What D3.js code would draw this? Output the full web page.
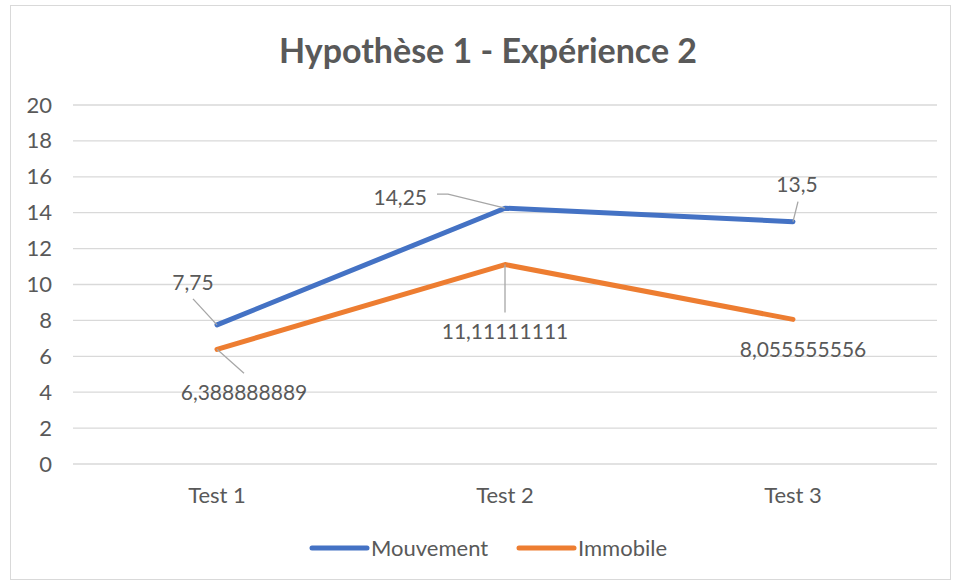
<!DOCTYPE html>
<html>
<head>
<meta charset="utf-8">
<script src="https://cdn.jsdelivr.net/npm/d3@7"></script>
<style>
  body { margin: 0; background: #fff; }
  text { font-family: Lato, "Open Sans", sans-serif; fill: #595959; }
</style>
</head>
<body>
<div id="Canvas"></div>
<script>
// données
let categories = ["Test 1", "Test 2", "Test 3"]
let seriesNames = ["Mouvement", "Immobile"]
let mouvement = [7.75, 14.25, 13.5]
let immobile = [6.388888889, 11.11111111, 8.055555556]
let labelsMouvement = ["7,75", "14,25", "13,5"]
let labelsImmobile = ["6,388888889", "11,11111111", "8,055555556"]
let yTicks = [0, 2, 4, 6, 8, 10, 12, 14, 16, 18, 20]
let colors = ["#4472C4", "#ED7D31"]

let svg = d3.select("#Canvas")
    .append("svg")
    .attr("width", 954)
    .attr("height", 581)

// cadre
svg.append("rect")
    .attr("x", 10.5).attr("y", 5.5)
    .attr("width", 940).attr("height", 574)
    .attr("fill", "#fff")
    .attr("stroke", "#D9D9D9")

let xScale = d3.scaleBand()
    .domain(categories)
    .range([73, 937])
let yScale = d3.scaleLinear()
    .domain([0, 20])
    .range([464, 105])
let cx = (c) => xScale(c) + xScale.bandwidth() / 2

// titre
svg.append("text")
    .attr("x", 488).attr("y", 63)
    .attr("text-anchor", "middle")
    .style("font-size", "34px")
    .style("font-weight", "bold")
    .text("Hypothèse 1 - Expérience 2")

// grille
svg.append("g")
    .selectAll("line")
    .data(yTicks)
    .enter()
    .append("line")
    .attr("x1", 73).attr("x2", 937)
    .attr("y1", d => yScale(d)).attr("y2", d => yScale(d))
    .attr("stroke", "#D9D9D9")
    .attr("stroke-width", 1.3)

// axe y
let yAxis = svg.append("g")
    .attr("transform", "translate(56,0)")
    .call(d3.axisLeft(yScale).tickValues(yTicks).tickSize(0).tickPadding(4))
yAxis.select(".domain").remove()
yAxis.selectAll("text")
    .style("font-size", "22px")
    .style("font-family", "Lato, sans-serif")
    .attr("fill", "#595959")

// axe x
let xAxis = svg.append("g")
    .attr("transform", "translate(0,503)")
    .call(d3.axisBottom(xScale).tickSize(0).tickPadding(0))
xAxis.select(".domain").remove()
xAxis.selectAll("text")
    .attr("y", 0).attr("dy", 0)
    .style("font-size", "22px")
    .style("font-family", "Lato, sans-serif")
    .attr("fill", "#595959")

// lignes
let line = d3.line()
    .x((d, i) => cx(categories[i]))
    .y(d => yScale(d))

let allSeries = [mouvement, immobile]
svg.append("g")
    .selectAll("path")
    .data(allSeries)
    .enter()
    .append("path")
    .attr("d", d => line(d))
    .attr("fill", "none")
    .attr("stroke", (d, i) => colors[i])
    .attr("stroke-width", 5)
    .attr("stroke-linecap", "round")
    .attr("stroke-linejoin", "round")

// étiquettes: décalages par rapport au point (dx, dy du texte, points de la ligne de rappel)
let labelInfo = [
    { s: 0, i: 0, dx: -24, dy: -35, anchor: "middle", leader: [[-24, -26], [0, 0]] },
    { s: 0, i: 1, dx: -78, dy: -3, anchor: "end", leader: [[-68, -14], [-57, -14], [0, 0]] },
    { s: 0, i: 2, dx: 4, dy: -30, anchor: "middle", leader: [[5, -20], [0, 0]] },
    { s: 1, i: 0, dx: 27, dy: 51, anchor: "middle", leader: [[27, 24], [0, 0]] },
    { s: 1, i: 1, dx: 0, dy: 74, anchor: "middle", leader: [[0, 48], [0, 0]] },
    { s: 1, i: 2, dx: 10, dy: 38, anchor: "middle", leader: null }
]
let labelTexts = [labelsMouvement, labelsImmobile]

let lab = svg.append("g")
labelInfo.forEach(d => {
    let px = cx(categories[d.i])
    let py = yScale(allSeries[d.s][d.i])
    if (d.leader) {
        lab.append("path")
            .attr("d", d3.line()(d.leader.map(p => [px + p[0], py + p[1]])))
            .attr("fill", "none")
            .attr("stroke", "#A6A6A6")
            .attr("stroke-width", 1.3)
    }
    lab.append("text")
        .attr("x", px + d.dx)
        .attr("y", py + d.dy)
        .attr("text-anchor", d.anchor)
        .style("font-size", "21px")
        .text(labelTexts[d.s][d.i])
})

// légende
let legendX = [312, 519]
let leg = svg.append("g")
seriesNames.forEach((name, i) => {
    leg.append("line")
        .attr("x1", legendX[i]).attr("x2", legendX[i] + 55)
        .attr("y1", 548).attr("y2", 548)
        .attr("stroke", colors[i])
        .attr("stroke-width", 5)
        .attr("stroke-linecap", "round")
    leg.append("text")
        .attr("x", legendX[i] + 59)
        .attr("y", 556)
        .style("font-size", "22px")
        .text(name)
})
</script>
</body>
</html>
